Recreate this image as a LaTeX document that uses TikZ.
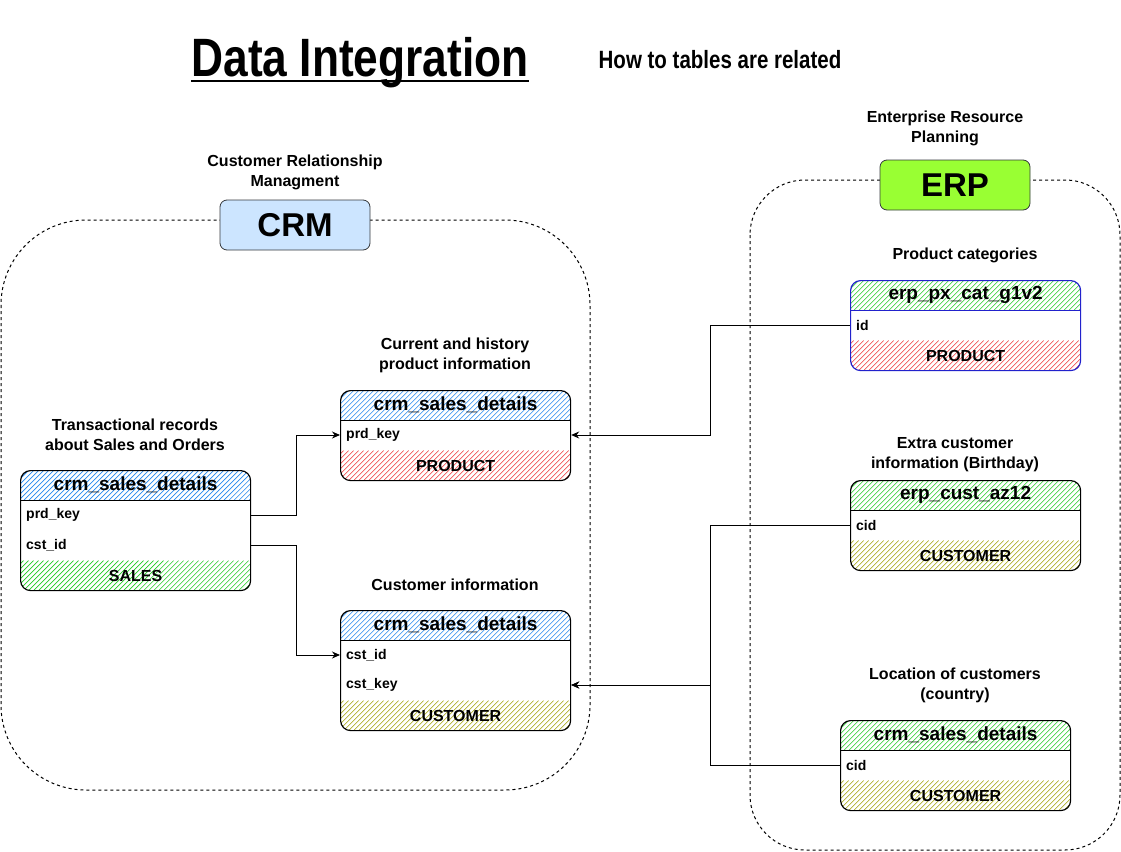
\documentclass[tikz,border=0pt]{standalone}
\usepackage{fontspec}
\setmainfont{Liberation Sans}
\newfontfamily\narrowfont{Liberation Sans}[FakeStretch=0.82]
\usetikzlibrary{arrows.meta}
\definecolor{hblue}{HTML}{2288EE}
\definecolor{hgreen}{HTML}{22CC22}
\definecolor{hred}{HTML}{EE3333}
\definecolor{holive}{HTML}{A0A000}
\definecolor{tblblue}{HTML}{2222CC}
\definecolor{crmfill}{HTML}{CCE5FF}
\definecolor{erpfill}{HTML}{99FF33}
\definecolor{sysborder}{HTML}{36393D}
\tikzset{
  container/.style={draw, dash pattern=on 3pt off 3pt, line width=1pt},
  lbl/.style={font=\bfseries\fontsize{16}{20}\selectfont, align=center, inner sep=0},
  fld/.style={font=\bfseries\fontsize{14}{16}\selectfont, anchor=west, inner sep=0},
  hdr/.style={font=\bfseries\fontsize{19}{19}\selectfont, inner sep=0},
  bandtxt/.style={font=\bfseries\fontsize{16}{16}\selectfont, inner sep=0},
  tblbox/.style={rectangle, rounded corners=10pt, minimum width=230pt, inner sep=0,
    anchor=north west, line width=1.2pt, fill=white},
  sysbox/.style={rectangle, rounded corners=7pt, minimum width=150pt, minimum height=50pt,
    draw=sysborder, line width=0.8pt, font=\bfseries\fontsize{33}{33}\selectfont},
  conn/.style={draw, line width=1pt, -{Stealth[length=8pt,width=7pt]}},
  hatchline/.style={draw=#1, line width=0.65pt}
}
\newcommand\mktable[9]{%
  \node[tblbox, draw=#7, minimum height=#4pt, path picture={
      \foreach \i in {-32,-27,...,232} {
        \draw[hatchline=#5] (path picture bounding box.north west) ++(\i,30) -- ++(30,-30);
        \draw[hatchline=#6] (path picture bounding box.south west) ++(\i,0) -- ++(30,-30);
      }
      \draw[draw=#7, line width=1pt] ([yshift=-30pt]path picture bounding box.north west) -- ([yshift=-30pt]path picture bounding box.north east);
    }] (#1) at (#2,#3) {};
  \node[hdr] (#1h) at ([yshift=-15pt]#1.north) {#8};
  \node[bandtxt] (#1b) at ([yshift=15pt]#1.south) {#9};
}
\begin{document}
\begin{tikzpicture}[x=1pt,y=-1pt]
\useasboundingbox (0,0) rectangle (1121,851);
% containers
\draw[container, rounded corners=85pt] (1,220) rectangle (590,790);
\draw[container, rounded corners=55pt] (750,180) rectangle (1120,850);
% title
\node[font=\narrowfont\bfseries\fontsize{54}{54}\selectfont, inner sep=0, anchor=base] (title) at (360,76) {Data Integration};
\draw[line width=2pt] ([yshift=-5pt]title.base west) -- ([yshift=-5pt]title.base east);
\node[font=\narrowfont\bfseries\fontsize{25}{25}\selectfont, inner sep=0, anchor=base] (sub) at (720,68) {How to tables are related};
% system boxes
\node[sysbox, fill=crmfill] (crm) at (295,225) {CRM};
\node[sysbox, fill=erpfill] (erp) at (955,185) {ERP};
% labels
\node[lbl] (crmlbl) at (295,172) {Customer Relationship\\Managment};
\node[lbl] (erplbl) at (945,128) {Enterprise Resource\\Planning};
\node[lbl] (l4) at (965,255) {Product categories};
\node[lbl] (l2) at (455,355) {Current and history\\product information};
\node[lbl] (l1) at (135,435) {Transactional records\\about Sales and Orders};
\node[lbl] (l3) at (455,585) {Customer information};
\node[lbl] (l5) at (955,455) {Extra customer\\information (Birthday)};
\node[lbl] (l6) at (955,685) {Location of customers\\(country)};
% tables
\mktable{t1}{20}{470}{120}{hblue}{hgreen}{black}{crm\_sales\_details}{SALES}
\mktable{t2}{340}{390}{90}{hblue}{hred}{black}{crm\_sales\_details}{PRODUCT}
\mktable{t3}{340}{610}{120}{hblue}{holive}{black}{crm\_sales\_details}{CUSTOMER}
\mktable{t4}{850}{280}{90}{hgreen}{hred}{tblblue}{erp\_px\_cat\_g1v2}{PRODUCT}
\mktable{t5}{850}{480}{90}{hgreen}{holive}{black}{erp\_cust\_az12}{CUSTOMER}
\mktable{t6}{840}{720}{90}{hgreen}{holive}{black}{crm\_sales\_details}{CUSTOMER}
% fields
\node[fld] (t1r1) at ([xshift=6pt,yshift=-45pt]t1.north west) {prd\_key};
\node[fld] (t1r2) at ([xshift=6pt,yshift=-75pt]t1.north west) {cst\_id};
\node[fld] (t2r1) at ([xshift=6pt,yshift=-45pt]t2.north west) {prd\_key};
\node[fld] (t3r1) at ([xshift=6pt,yshift=-45pt]t3.north west) {cst\_id};
\node[fld] (t3r2) at ([xshift=6pt,yshift=-75pt]t3.north west) {cst\_key};
\node[fld] (t4r1) at ([xshift=6pt,yshift=-45pt]t4.north west) {id};
\node[fld] (t5r1) at ([xshift=6pt,yshift=-45pt]t5.north west) {cid};
\node[fld] (t6r1) at ([xshift=6pt,yshift=-45pt]t6.north west) {cid};
% connectors
\draw[conn] (t1r1 -| t1.east) -- ++(45,0) |- (t2r1 -| t2.west);
\draw[conn] (t1r2 -| t1.east) -- ++(45,0) |- (t3r1 -| t3.west);
\draw[conn] (t4r1 -| t4.west) -- ++(-140,0) |- (t2r1 -| t2.east);
\draw[conn] (t5r1 -| t5.west) -- ++(-140,0) |- (t3r2 -| t3.east);
\draw[conn] (t6r1 -| t6.west) -- ++(-130,0) |- (t3r2 -| t3.east);
\end{tikzpicture}
\end{document}
